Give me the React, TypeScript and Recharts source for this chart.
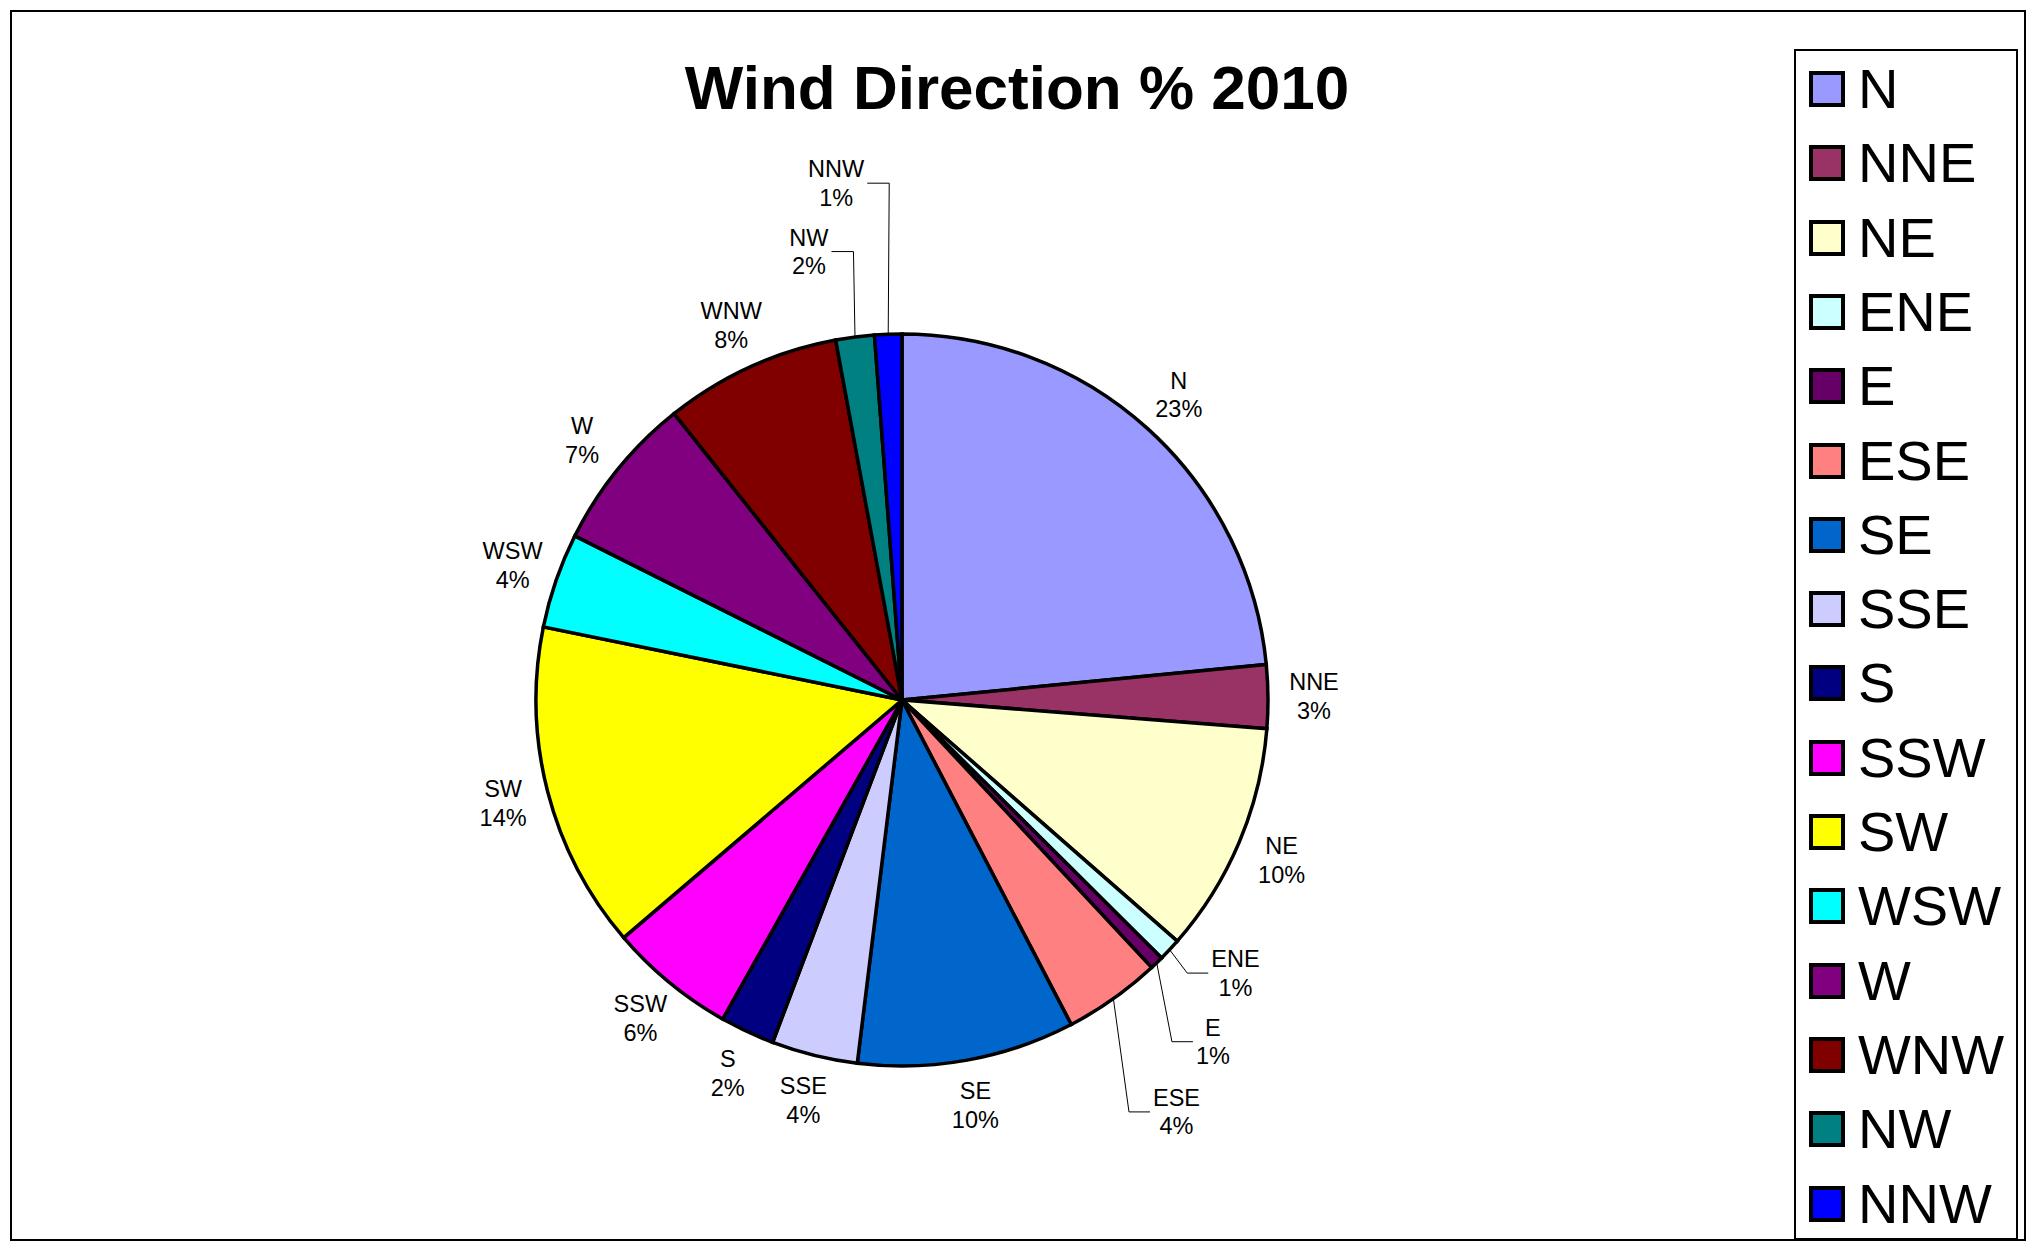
import React from 'react';
import { PieChart, Pie, Cell, Legend } from 'recharts';

// ---- data ----
const directions = ['N', 'NNE', 'NE', 'ENE', 'E', 'ESE', 'SE', 'SSE', 'S', 'SSW', 'SW', 'WSW', 'W', 'WNW', 'NW', 'NNW'];
const shares = [23.45, 2.8, 10.2, 1.0, 0.6, 4.3, 9.6, 3.8, 2.4, 5.6, 14.45, 4.2, 6.9, 7.8, 1.7, 1.2];
const colors = ['#9999FF', '#993366', '#FFFFCC', '#CCFFFF', '#660066', '#FF8080', '#0066CC', '#CCCCFF', '#000080', '#FF00FF', '#FFFF00', '#00FFFF', '#800080', '#800000', '#008080', '#0000FF'];
const title = 'Wind Direction % 2010';

const data = directions.map((name, i) => ({ name, value: shares[i] }));

// ---- layout config (not data) ----
const FONT = '"Liberation Sans", Arial, Helvetica, sans-serif';
const LABEL_SIZE = 23.5;
const LABEL_GAP = 46;
// labels moved away from their slice, drawn with a leader line
const leaderLabels: Record<string, { shift: number; extra: number; side: 'left' | 'right' }> = {
  NNW: { shift: -5.1, extra: 155, side: 'left' },
  NW: { shift: -4.35, extra: 92, side: 'left' },
  ENE: { shift: -3.7, extra: 65, side: 'right' },
  E: { shift: 1.8, extra: 96, side: 'right' },
  ESE: { shift: 1.6, extra: 129, side: 'right' },
};

const RAD = Math.PI / 180;
const polar = (cx: number, cy: number, r: number, theta: number) => ({
  x: cx + r * Math.sin(theta * RAD),
  y: cy - r * Math.cos(theta * RAD),
});

const charW: Record<string, number> = { N: 0.722, E: 0.667, S: 0.667, W: 0.944, '%': 0.889 };
const textWidth = (s: string, size: number) =>
  s.split('').reduce((acc, c) => acc + (charW[c] ?? 0.556), 0) * size;

const renderLabel = (props: any) => {
  const { cx, cy, midAngle, outerRadius, name, percent } = props;
  let theta = 90 - midAngle;
  theta = ((theta % 360) + 360) % 360;
  const pct = `${Math.round(percent * 100)}%`;
  const w = Math.max(textWidth(name, LABEL_SIZE), textWidth(pct, LABEL_SIZE));
  const cfg = leaderLabels[name];
  let pos;
  let line: React.ReactNode = null;
  if (cfg) {
    pos = polar(cx, cy, outerRadius + cfg.extra, theta + cfg.shift);
    const edge = polar(cx, cy, outerRadius, theta);
    const sideX = cfg.side === 'right' ? pos.x - w / 2 - 3 : pos.x + w / 2 + 3;
    const elbowX = cfg.side === 'right' ? sideX - 21 : sideX + 22;
    line = (
      <path
        d={`M${edge.x},${edge.y} L${elbowX},${pos.y} L${sideX},${pos.y}`}
        stroke="#000"
        strokeWidth={1}
        fill="none"
      />
    );
  } else {
    pos = polar(cx, cy, outerRadius + LABEL_GAP, theta);
  }
  return (
    <g key={`lbl-${name}`}>
      {line}
      <text
        x={pos.x}
        y={pos.y - 14}
        textAnchor="middle"
        dominantBaseline="central"
        fontSize={LABEL_SIZE}
        fontFamily={FONT}
        fill="#000"
      >
        {name}
      </text>
      <text
        x={pos.x}
        y={pos.y + 14.5}
        textAnchor="middle"
        dominantBaseline="central"
        fontSize={LABEL_SIZE}
        fontFamily={FONT}
        fill="#000"
      >
        {pct}
      </text>
    </g>
  );
};

const renderLegend = () => (
  <div
    style={{
      width: 224,
      height: 1191,
      border: '2px solid #000',
      boxSizing: 'border-box',
      background: '#fff',
      position: 'relative',
      fontFamily: FONT,
    }}
  >
    {directions.map((d, i) => (
      <div
        key={d}
        style={{
          position: 'absolute',
          left: 13,
          top: 20 + i * 74.3,
          height: 36,
          display: 'flex',
          alignItems: 'center',
        }}
      >
        <div
          style={{
            width: 36,
            height: 36,
            boxSizing: 'border-box',
            border: '4px solid #000',
            background: colors[i],
          }}
        />
        <span style={{ marginLeft: 13, fontSize: 56, lineHeight: '36px', color: '#000' }}>{d}</span>
      </div>
    ))}
  </div>
);

export default function App() {
  return (
    <div style={{ position: 'absolute', left: 0, top: 0, width: 2039, height: 1254, background: '#fff', overflow: 'hidden' }}>
      <div
        style={{
          position: 'absolute',
          left: 10,
          top: 10,
          width: 2016,
          height: 1231,
          border: '2px solid #000',
          boxSizing: 'border-box',
        }}
      />
      <div
        style={{
          position: 'absolute',
          left: 0,
          width: 2034,
          top: 57,
          textAlign: 'center',
          fontFamily: FONT,
          fontWeight: 'bold',
          fontSize: 62,
          lineHeight: '62px',
          color: '#000',
        }}
      >
        {title}
      </div>
      <div style={{ position: 'absolute', left: 0, top: 0 }}>
        <PieChart width={2039} height={1254} margin={{ top: 0, right: 0, bottom: 0, left: 0 }}>
          <Pie
            data={data}
            dataKey="value"
            nameKey="name"
            cx={902}
            cy={700}
            outerRadius={366}
            startAngle={90}
            endAngle={-270}
            stroke="#000"
            strokeWidth={3.5}
            labelLine={false}
            label={renderLabel}
            isAnimationActive={false}
          >
            {data.map((d, i) => (
              <Cell key={d.name} fill={colors[i]} stroke="#000" strokeWidth={3.5} />
            ))}
          </Pie>
          <Legend
            layout="vertical"
            align="right"
            verticalAlign="top"
            content={renderLegend}
            wrapperStyle={{ position: 'absolute', left: 1794, top: 49, width: 224, height: 1191 }}
          />
        </PieChart>
      </div>
    </div>
  );
}
